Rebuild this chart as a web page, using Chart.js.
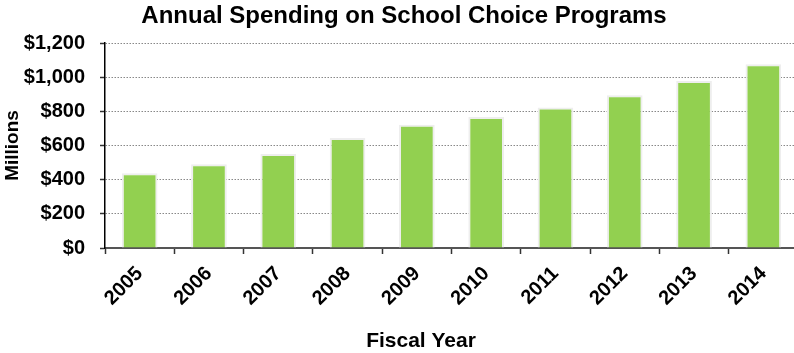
<!DOCTYPE html>
<html>
<head>
<meta charset="utf-8">
<script src="https://cdn.jsdelivr.net/npm/chart.js@4/dist/chart.umd.min.js"></script>
<style>
    html, body { margin: 0; padding: 0; background: #fff; overflow: hidden; }
    #wrap { position: relative; width: 798px; height: 353px; }
</style>
</head>
<body>
<div id="wrap"><canvas id="spendingChart"></canvas></div>
<script>
const years = ['2005', '2006', '2007', '2008', '2009', '2010', '2011', '2012', '2013', '2014'];
const spending = [437, 490, 550, 644, 722, 767, 822, 894, 977, 1075];   // millions of dollars
const yTicks = [0, 200, 400, 600, 800, 1000, 1200];
const chartTitle = 'Annual Spending on School Choice Programs';
const xTitle = 'Fiscal Year';
const yTitle = 'Millions';

const fontFamily = '"Liberation Sans", Arial, sans-serif';
Chart.defaults.font.family = fontFamily;

// title and x axis title sit off-centre in the original, so draw them by hand
const outsideText = {
    id: 'outsideText',
    afterDraw(chart) {
        const ctx = chart.ctx;
        ctx.save();
        ctx.fillStyle = '#000';
        ctx.textAlign = 'center';
        ctx.textBaseline = 'alphabetic';
        ctx.font = 'bold 24px ' + fontFamily;
        ctx.fillText(chartTitle, 404, 23);
        ctx.font = 'bold 21px ' + fontFamily;
        ctx.fillText(xTitle, 421, 347);
        ctx.restore();
    }
};

const ctx = document.getElementById('spendingChart');
const spendingChart = new Chart(ctx, {
    type: 'bar',
    data: {
        labels: years,
        datasets: [{
            data: spending,
            backgroundColor: '#92D050',
            borderColor: '#EEEEEE',
            borderWidth: 2,
            barPercentage: 0.515,
            categoryPercentage: 1,
        }]
    },
    options: {
        responsive: true,
        maintainAspectRatio: false,
        animation: false,
        layout: {
            padding: { top: 43, left: 0, right: 0, bottom: 0 }
        },
        plugins: {
            legend: { display: false },
            title: { display: false },
            tooltip: { enabled: false },
        },
        scales: {
            x: {
                grid: {
                    offset: true,
                    drawOnChartArea: false,
                    tickLength: 6,
                    tickWidth: 1.5,
                    tickColor: '#333',
                },
                border: { color: '#555', width: 2 },
                ticks: {
                    color: '#000',
                    font: { size: 20, weight: 'bold' },
                    minRotation: 45,
                    maxRotation: 45,
                    autoSkip: false,
                    padding: 8,
                },
                afterFit(scale) { scale.height = 105; },
            },
            y: {
                min: yTicks[0],
                max: yTicks[yTicks.length - 1],
                ticks: {
                    stepSize: yTicks[1] - yTicks[0],
                    padding: 15,
                    color: '#000',
                    font: { size: 20, weight: 'bold' },
                    callback: (v) => '$' + v.toLocaleString('en-US'),
                },
                grid: {
                    color: '#888',
                    lineWidth: 1,
                    tickLength: 5,
                    tickWidth: 1.5,
                    tickColor: '#333',
                    tickBorderDash: [],
                },
                border: { color: '#000', width: 1.5, dash: [1.5, 1.5] },
                title: {
                    display: true,
                    text: yTitle,
                    color: '#000',
                    font: { size: 19, weight: 'bold' },
                    padding: { top: 1, bottom: 0 },
                },
                afterFit(scale) { scale.width = 105; },
            }
        }
    },
    plugins: [outsideText]
});
</script>
</body>
</html>
